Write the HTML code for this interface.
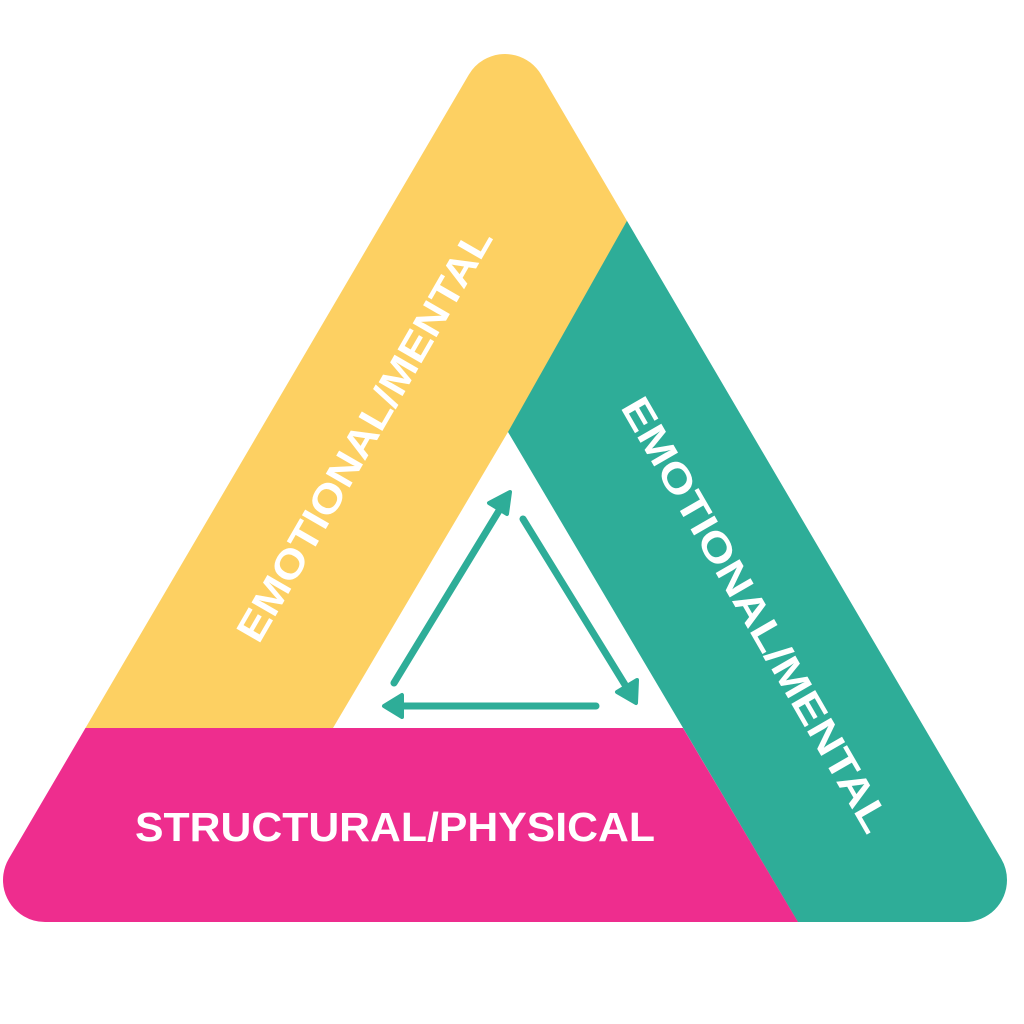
<!DOCTYPE html>
<html><head><meta charset="utf-8"><style>html,body{margin:0;padding:0;background:#fff}svg{display:block}</style></head>
<body>
<svg width="1024" height="1024" viewBox="0 0 1024 1024" xmlns="http://www.w3.org/2000/svg">
<defs>
<mask id="m">
<rect width="1024" height="1024" fill="black"/>
<polygon points="505,96 45,880 965,880" fill="white" stroke="white" stroke-width="84" stroke-linejoin="round"/>
</mask>
</defs>
<g mask="url(#m)">
<polygon points="-100,-10 1100,-10 1100,432 508,432 333,728 -100,728" fill="#FDD062"/>
<polygon points="757,-10 1100,-10 1100,1000 844,1000 508,432" fill="#2EAD98"/>
<polygon points="-100,728 683,728 798,922 844,1000 -100,1000" fill="#EE2D8E"/>
</g>
<g font-family="Liberation Sans, sans-serif" font-weight="bold" fill="#fff">
<text x="0" y="0" transform="translate(365,435) rotate(-60)" text-anchor="middle" dominant-baseline="central" font-size="40" textLength="470" lengthAdjust="spacingAndGlyphs">EMOTIONAL/MENTAL</text>
<text x="0" y="0" transform="translate(755,615) rotate(60)" text-anchor="middle" dominant-baseline="central" font-size="40" textLength="495" lengthAdjust="spacingAndGlyphs">EMOTIONAL/MENTAL</text>
<text x="395" y="841" text-anchor="middle" font-size="41" textLength="520" lengthAdjust="spacingAndGlyphs">STRUCTURAL/PHYSICAL</text>
</g>
<g stroke="#2EAD98" stroke-width="7" stroke-linecap="round" fill="#2EAD98">
<line x1="394" y1="683" x2="500" y2="509"/>
<polygon points="510,492 489,503 507,514" stroke-width="4" stroke-linejoin="round"/>
<line x1="523" y1="519" x2="627" y2="688"/>
<polygon points="636,703 637,680 617,692" stroke-width="4" stroke-linejoin="round"/>
<line x1="596" y1="706" x2="400" y2="706"/>
<polygon points="384,706 402,695 402,717" stroke-width="4" stroke-linejoin="round"/>
</g>
</svg>
</body></html>
